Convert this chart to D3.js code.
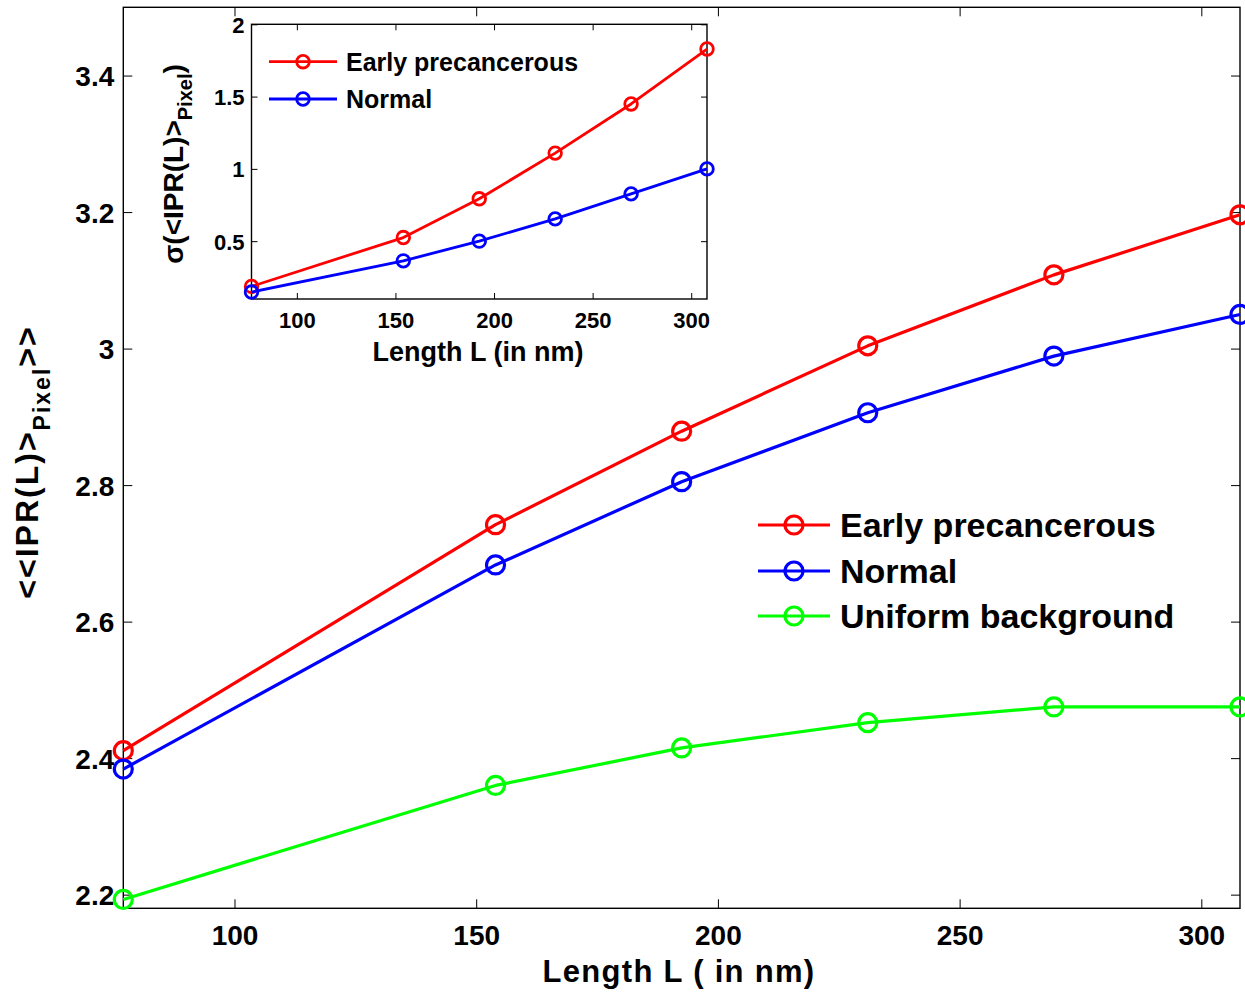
<!DOCTYPE html>
<html>
<head>
<meta charset="utf-8">
<script src="https://cdn.jsdelivr.net/npm/d3@7"></script>
<style>
  html, body { margin: 0; padding: 0; background: #fff; }
  svg { display: block; }
  text { font-family: "Liberation Sans", Arial, sans-serif; font-weight: bold; fill: #000; }
</style>
</head>
<body>
<svg id="chart" width="1245" height="997"></svg>
<script>
// ---- Data ----
const lengths = [77, 154, 192.5, 231, 269.5, 308];
const earlyMean = [2.411, 2.742, 2.879, 3.004, 3.108, 3.196];
const normalMean = [2.384, 2.683, 2.805, 2.906, 2.989, 3.050];
const uniformMean = [2.193, 2.360, 2.415, 2.452, 2.475, 2.475];
const earlySigma = [0.187, 0.525, 0.793, 1.109, 1.449, 1.829];
const normalSigma = [0.148, 0.364, 0.500, 0.654, 0.827, 1.000];
const mainXTicks = [100, 150, 200, 250, 300];
const mainYTicks = [2.2, 2.4, 2.6, 2.8, 3.0, 3.2, 3.4];
const insetXTicks = [100, 150, 200, 250, 300];
const insetYTicks = [0.5, 1, 1.5, 2];
const mainSeries = [
  {name: "Early precancerous", values: earlyMean, color: "#ff0000"},
  {name: "Normal", values: normalMean, color: "#0000ff"},
  {name: "Uniform background", values: uniformMean, color: "#00ff00"}
];
const insetSeries = [
  {name: "Early precancerous", values: earlySigma, color: "#ff0000"},
  {name: "Normal", values: normalSigma, color: "#0000ff"}
];

const svg = d3.select("#chart");

function drawAxes(g, x, y, xTicks, yTicks, opt) {
  const [x0, x1] = x.range();
  const [y0, y1] = y.range(); // y0 bottom, y1 top
  g.append("rect").attr("x", x0).attr("y", y1).attr("width", x1 - x0).attr("height", y0 - y1)
    .attr("fill", "#fff");
  const tl = opt.tickLen;
  const bottom = g.append("g").attr("transform", `translate(0,${y0})`)
    .call(d3.axisBottom(x).tickValues(xTicks).tickSizeInner(-tl).tickSizeOuter(0).tickPadding(opt.xPad).tickFormat(d3.format("d")));
  const top = g.append("g").attr("transform", `translate(0,${y1})`)
    .call(d3.axisTop(x).tickValues(xTicks).tickSizeInner(-tl).tickSizeOuter(0).tickFormat(""));
  const left = g.append("g").attr("transform", `translate(${x0},0)`)
    .call(d3.axisLeft(y).tickValues(yTicks).tickSizeInner(-tl).tickSizeOuter(0).tickPadding(opt.yPad).tickFormat(d => String(+d.toFixed(1))));
  const right = g.append("g").attr("transform", `translate(${x1},0)`)
    .call(d3.axisRight(y).tickValues(yTicks).tickSizeInner(-tl).tickSizeOuter(0).tickFormat(""));
  [bottom, top, left, right].forEach(a => {
    a.select(".domain").remove();
    a.selectAll(".tick line").attr("stroke", "#000").attr("stroke-width", 1);
    a.selectAll("text").attr("font-family", "'Liberation Sans', Arial, sans-serif")
      .attr("font-weight", "bold").attr("fill", "#000").attr("font-size", opt.tickFont);
  });
  bottom.selectAll("text").attr("dy", null).attr("y", opt.xLabelY).attr("dominant-baseline", "auto");
  left.selectAll("text").attr("dy", "0.36em");
  g.append("rect").attr("x", x0).attr("y", y1).attr("width", x1 - x0).attr("height", y0 - y1)
    .attr("fill", "none").attr("stroke", "#000").attr("stroke-width", 1.4);
}

function drawSeries(g, x, y, series, r, lw) {
  const line = d3.line().x((d, i) => x(lengths[i])).y(d => y(d));
  series.forEach(s => {
    g.append("path").datum(s.values).attr("d", line).attr("fill", "none")
      .attr("stroke", s.color).attr("stroke-width", lw).attr("stroke-linejoin", "round");
    g.selectAll(null).data(s.values).enter().append("circle")
      .attr("cx", (d, i) => x(lengths[i])).attr("cy", d => y(d)).attr("r", r)
      .attr("fill", "none").attr("stroke", s.color).attr("stroke-width", lw);
  });
}

function drawLegend(g, series, lx0, lx1, tx, rows, fontSize, r, lw, baseOff) {
  series.forEach((s, i) => {
    const yy = rows[i];
    g.append("line").attr("x1", lx0).attr("x2", lx1).attr("y1", yy).attr("y2", yy)
      .attr("stroke", s.color).attr("stroke-width", lw);
    g.append("circle").attr("cx", (lx0 + lx1) / 2).attr("cy", yy).attr("r", r)
      .attr("fill", "none").attr("stroke", s.color).attr("stroke-width", lw);
    g.append("text").attr("x", tx).attr("y", yy + baseOff).attr("font-size", fontSize).text(s.name);
  });
}

// ---- Main plot ----
const mx = d3.scaleLinear().domain([77, 308]).range([123.3, 1240]);
const my = d3.scaleLinear().domain([2.18, 3.5]).range([908.3, 7.3]);
const gMain = svg.append("g");
drawAxes(gMain, mx, my, mainXTicks, mainYTicks, {tickLen: 9, tickFont: 28, xPad: 10, yPad: 9, xLabelY: 37});
drawSeries(gMain, mx, my, mainSeries, 9, 3.2);
drawLegend(gMain, mainSeries, 758, 830, 840, [525, 571, 616], 34, 9, 3.2, 12);

// main axis titles
gMain.append("text").attr("x", 679).attr("y", 982).attr("text-anchor", "middle")
  .attr("font-size", 31).attr("letter-spacing", 1.3).text("Length L ( in nm)");
const yt = gMain.append("text").attr("transform", "translate(38,462) rotate(-90)")
  .attr("text-anchor", "middle").attr("font-size", 32).attr("letter-spacing", 2);
yt.append("tspan").text("<<IPR(L)>");
yt.append("tspan").attr("dy", 12).attr("font-size", 23).text("Pixel");
yt.append("tspan").attr("dy", -12).text(">>");

// ---- Inset ----
const ix = d3.scaleLinear().domain([77, 308]).range([251.5, 707]);
const iy = d3.scaleLinear().domain([0.1, 2]).range([299, 24.3]);
const gIn = svg.append("g");
drawAxes(gIn, ix, iy, insetXTicks, insetYTicks, {tickLen: 6, tickFont: 22, xPad: 8, yPad: 7, xLabelY: 29});
drawSeries(gIn, ix, iy, insetSeries, 6.3, 2.8);
drawLegend(gIn, insetSeries, 269, 337, 346, [61.7, 99], 25, 6.3, 2.8, 9);

gIn.append("text").attr("x", 478).attr("y", 361).attr("text-anchor", "middle")
  .attr("font-size", 27).text("Length L (in nm)");
const iyt = gIn.append("text").attr("transform", "translate(183,164) rotate(-90)")
  .attr("text-anchor", "middle").attr("font-size", 28);
iyt.append("tspan").text("σ(<IPR(L)>");
iyt.append("tspan").attr("dy", 9).attr("font-size", 20).text("Pixel");
iyt.append("tspan").attr("dy", -9).text(")");
</script>
</body>
</html>
